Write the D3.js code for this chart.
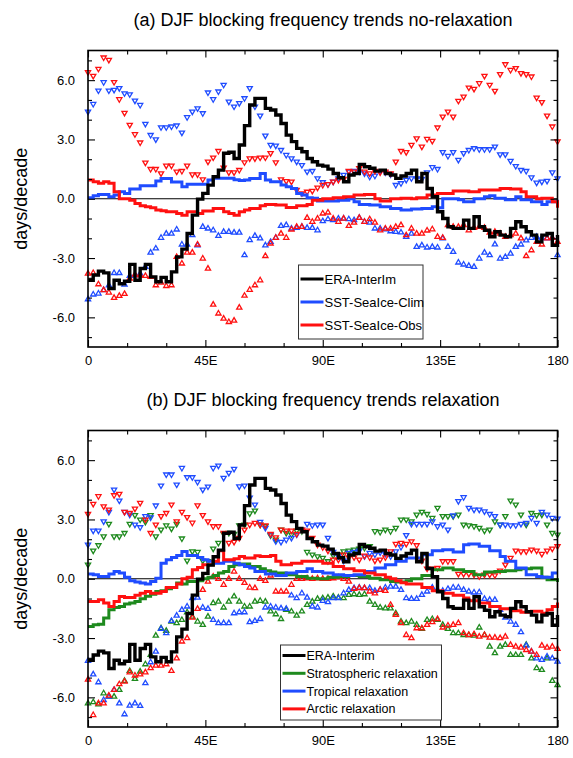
<!DOCTYPE html>
<html>
<head>
<meta charset="utf-8">
<script src="https://cdn.jsdelivr.net/npm/d3@7"></script>
<style>
  body { margin: 0; background: #fff; }
  svg { display: block; font-family: "Liberation Sans", Arial, Helvetica, sans-serif; }
</style>
</head>
<body>
<svg id="chart" width="573" height="758"></svg>
<script>
// Longitude grid (degrees east), 2-degree spacing
const lon = [0,2,4,6,8,10,12,14,16,18,20,22,24,26,28,30,32,34,36,38,40,42,44,46,48,50,52,54,56,58,
  60,62,64,66,68,70,72,74,76,78,80,82,84,86,88,90,92,94,96,98,100,102,104,106,108,110,112,114,116,118,
  120,122,124,126,128,130,132,134,136,138,140,142,144,146,148,150,152,154,156,158,160,162,164,166,168,170,172,174,176,178,180];

// ERA-Interim DJF blocking frequency trend (days/decade)
const eraInterim = [
  -4.12,-3.86,-3.66,-3.75,-4.54,-4.12,-4.30,-4.17,-3.32,-4.12,
  -3.53,-3.32,-3.95,-4.20,-3.98,-4.20,-3.70,-2.94,-2.55,-1.76,
  -0.83,-0.02,0.27,0.69,1.11,1.45,2.30,2.35,2.04,2.72,
  3.70,4.74,5.08,5.08,4.57,4.49,4.24,3.81,3.22,2.89,
  2.55,2.38,2.04,1.87,1.70,1.65,1.50,1.28,1.06,0.86,
  1.20,1.28,1.74,1.62,1.54,1.40,1.45,1.28,1.20,1.03,
  1.15,1.28,1.45,0.86,1.28,0.52,0.10,-0.66,-1.00,-1.42,
  -1.50,-1.50,-1.08,-1.50,-0.91,-1.42,-1.59,-1.92,-1.67,-1.84,
  -1.92,-1.50,-1.16,-1.42,-1.67,-1.84,-2.18,-1.84,-1.76,-2.35,
  -1.84];

// (a) SST-SeaIce-Clim: ensemble mean and upper/lower bounds
const climMean = [
  0.05,0.15,0.22,0.22,0.10,0.19,0.35,0.27,0.49,0.49,
  0.66,0.66,0.66,0.90,1.03,1.03,0.85,0.85,0.61,0.73,
  0.73,0.73,0.73,0.95,1.04,1.04,1.04,1.04,0.96,0.92,
  0.95,1.03,1.03,1.28,0.95,0.86,0.86,0.69,0.61,0.52,
  0.27,0.19,0.05,0.02,-0.12,-0.12,-0.12,-0.12,-0.07,-0.07,
  0.00,-0.15,-0.29,-0.29,-0.32,-0.32,-0.40,-0.40,-0.49,-0.49,
  -0.57,-0.57,-0.52,-0.52,-0.49,-0.49,-0.40,-0.46,0.00,0.00,
  0.00,-0.05,-0.15,-0.15,0.00,0.00,0.10,0.15,0.02,0.02,
  -0.05,-0.05,0.10,-0.05,-0.05,-0.15,-0.15,-0.29,-0.15,-0.15,
  -0.05];
const climHi = [
  4.40,4.79,5.47,5.89,5.47,5.50,5.59,5.33,5.28,4.96,
  4.74,3.78,3.22,3.00,3.61,3.61,3.65,3.70,3.34,4.12,
  4.40,4.57,4.32,5.37,5.03,5.42,5.76,4.91,4.66,4.83,
  5.08,5.59,4.66,4.20,3.19,2.72,2.68,2.46,2.21,2.04,
  1.87,1.70,1.37,1.40,1.03,0.83,0.73,0.86,1.03,1.20,
  1.37,1.40,1.37,1.28,1.11,1.16,1.37,1.33,1.23,0.69,
  0.78,0.95,1.03,1.03,1.00,1.33,1.59,1.50,2.35,2.16,
  2.35,1.96,2.30,2.46,2.55,2.50,2.50,2.50,2.63,2.24,
  2.24,1.91,1.65,1.45,1.40,1.08,0.81,0.86,0.90,1.33,
  1.03];
const climLo = [
  -5.08,-4.84,-4.79,-4.62,-4.37,-3.75,-3.75,-4.34,-3.90,-3.87,
  -3.78,-3.44,-2.72,-2.51,-1.97,-1.76,-1.76,-1.55,-2.31,-2.31,
  -1.84,-2.35,-1.42,-1.50,-1.59,-1.87,-1.67,-1.67,-1.71,-1.71,
  -2.85,-2.09,-1.87,-2.00,-2.35,-2.18,-1.97,-1.37,-1.33,-1.50,
  -1.47,-1.42,-1.47,-1.47,-1.59,-1.13,-1.03,-1.08,-1.00,-1.00,
  -1.03,-1.08,-0.96,-1.16,-1.20,-1.50,-1.50,-1.54,-1.64,-1.67,
  -1.70,-1.92,-1.76,-2.43,-2.35,-2.46,-2.43,-2.46,-2.00,-2.43,
  -2.68,-3.22,-3.32,-3.39,-3.44,-3.02,-2.72,-2.85,-2.30,-3.02,
  -2.94,-2.77,-2.43,-2.31,-2.10,-1.97,-1.92,-1.97,-2.00,-1.97,
  -2.85];

// (a) SST-SeaIce-Obs
const obsMean = [
  0.95,0.86,0.78,0.86,0.78,0.35,0.00,0.00,-0.07,-0.24,
  -0.35,-0.40,-0.46,-0.57,-0.61,-0.66,-0.66,-0.74,-0.83,-0.66,
  -0.66,-0.74,-0.62,-0.62,-0.49,-0.49,-0.66,-0.74,-0.83,-0.66,
  -0.57,-0.49,-0.49,-0.35,-0.29,-0.29,-0.32,-0.32,-0.44,-0.44,
  -0.35,-0.35,-0.29,-0.07,-0.07,0.00,0.00,0.05,0.05,0.10,
  0.10,0.19,0.19,0.22,0.22,0.00,-0.12,-0.12,0.00,0.00,
  0.02,0.02,0.00,0.05,0.05,0.19,0.19,0.27,0.27,0.27,
  0.39,0.39,0.39,0.35,0.35,0.44,0.44,0.44,0.44,0.52,
  0.52,0.49,0.49,0.35,0.10,0.10,0.00,0.02,0.02,-0.15,
  -0.46];
const obsHi = [
  6.40,6.21,6.57,7.14,7.02,5.90,5.03,4.34,3.73,3.26,
  2.84,1.82,1.50,1.50,1.28,1.67,1.67,1.37,1.40,1.67,
  1.23,1.23,0.98,1.87,2.08,2.41,1.57,1.33,1.33,1.45,
  1.84,2.04,2.04,2.08,2.08,2.30,1.84,0.98,0.89,0.86,
  0.44,0.27,0.35,0.39,0.56,0.69,0.73,0.86,0.95,1.00,
  1.40,1.37,1.54,1.37,1.28,1.40,1.33,1.37,1.28,1.87,
  2.41,2.35,2.72,3.05,2.63,3.02,2.92,3.60,4.15,4.40,
  4.15,4.95,5.16,5.62,5.55,5.84,6.21,5.76,5.45,6.30,
  6.80,6.51,6.60,6.35,6.30,6.18,5.11,4.88,4.20,3.65,
  2.89];
const obsLo = [
  -3.78,-3.75,-4.32,-4.62,-4.74,-5.01,-4.91,-4.81,-4.03,-3.83,
  -3.87,-3.90,-3.95,-4.37,-4.24,-4.41,-4.37,-2.94,-3.27,-2.72,
  -2.72,-2.31,-3.02,-3.53,-5.35,-5.80,-6.06,-6.23,-6.16,-5.50,
  -4.90,-4.60,-4.37,-4.12,-2.89,-2.26,-1.97,-1.76,-1.97,-1.55,
  -1.42,-1.42,-0.96,-1.16,-1.00,-0.74,-0.69,-1.00,-1.16,-1.00,
  -1.37,-1.20,-0.96,-1.16,-1.03,-1.20,-1.59,-1.50,-1.50,-1.42,
  -1.33,-1.84,-1.50,-1.76,-1.76,-1.60,-1.54,-1.92,-1.97,-1.33,
  -1.42,-1.42,-1.33,-1.59,-1.47,-1.42,-1.47,-1.71,-1.67,-1.76,
  -1.92,-1.84,-1.76,-2.00,-2.89,-2.60,-2.18,-2.31,-2.00,-1.97,
  -2.18];

// (b) Stratospheric relaxation
const stratMean = [
  -2.41,-2.33,-2.30,-1.99,-1.57,-1.45,-1.40,-1.28,-1.23,-1.15,
  -1.01,-0.89,-0.78,-0.64,-0.61,-0.51,-0.44,-0.22,-0.27,-0.14,
  -0.14,-0.10,0.00,0.07,0.17,0.29,0.37,0.62,0.71,0.74,
  0.74,0.62,0.62,0.51,0.41,0.34,0.29,0.29,0.20,0.20,
  0.12,0.12,0.03,0.03,0.00,0.00,0.07,0.07,0.12,0.12,
  0.17,0.17,0.12,0.12,0.03,0.03,-0.05,-0.05,-0.14,-0.17,
  -0.17,-0.10,0.00,0.00,0.17,0.17,0.46,0.46,0.54,0.54,
  0.46,0.46,0.37,0.37,0.20,0.20,0.34,0.34,0.37,0.37,
  0.41,0.41,0.46,0.51,0.51,0.54,0.54,0.07,-0.05,-0.05,
  -0.17];
const stratHi = [
  0.71,1.42,1.69,2.14,2.77,2.14,2.14,2.31,2.77,3.21,
  2.99,2.87,3.21,2.14,2.48,2.70,2.53,2.77,2.03,0.91,
  1.38,1.35,0.91,0.88,1.52,1.81,2.26,2.31,2.26,2.70,
  2.73,3.30,3.44,2.73,2.65,2.19,1.97,2.48,2.31,2.23,
  2.43,2.40,1.35,1.22,1.13,1.05,0.88,1.18,1.22,1.38,
  1.42,1.47,1.52,1.55,1.64,2.40,2.36,2.48,2.40,2.57,
  2.99,2.99,2.90,3.24,3.38,3.27,3.07,3.58,3.16,3.16,
  3.16,3.24,2.73,2.70,2.65,2.57,2.43,2.48,2.90,2.73,
  3.16,3.95,3.75,3.24,2.73,3.32,3.21,3.24,2.73,2.31,
  2.23];
const stratLo = [
  -6.30,-6.24,-6.35,-5.79,-5.96,-5.96,-5.62,-5.16,-4.66,-5.06,
  -4.69,-4.32,-3.85,-2.87,-2.50,-2.63,-2.16,-2.24,-2.08,-1.69,
  -1.91,-2.16,-2.33,-1.91,-1.23,-1.15,-1.45,-1.15,-0.89,-1.15,
  -1.40,-1.40,-1.15,-1.11,-1.15,-1.65,-1.79,-2.03,-1.57,-1.65,
  -1.86,-1.65,-1.32,-1.15,-1.01,-0.98,-0.95,-0.89,-0.95,-0.98,
  -0.81,-0.78,-0.81,-0.78,-1.15,-1.32,-1.45,-1.49,-1.49,-1.74,
  -2.16,-2.24,-2.16,-2.33,-2.53,-2.08,-2.03,-2.08,-2.33,-2.53,
  -2.75,-2.75,-2.84,-2.84,-2.87,-2.46,-2.84,-3.43,-3.76,-3.43,
  -3.34,-3.85,-3.85,-3.85,-3.34,-4.02,-4.52,-4.61,-4.02,-5.16,
  -5.37];

// (b) Tropical relaxation
const tropMean = [
  0.24,0.20,0.12,0.12,0.24,0.37,0.29,0.07,-0.10,-0.17,
  -0.22,-0.27,-0.14,0.03,0.79,0.96,1.08,1.18,1.38,1.18,
  1.18,1.08,0.96,0.88,0.79,0.79,0.88,0.88,0.79,0.71,
  0.62,0.54,0.37,0.37,0.24,0.24,0.17,0.17,0.29,0.29,
  0.37,0.37,0.51,0.37,0.37,0.29,0.29,0.20,0.20,0.17,
  0.17,0.20,0.20,0.37,0.37,0.54,0.54,0.71,0.71,0.88,
  0.88,1.05,1.05,1.05,1.22,1.22,1.42,1.42,1.47,1.47,
  1.35,1.35,1.72,1.76,1.76,1.64,1.64,1.42,1.42,1.13,
  0.88,0.88,0.54,0.54,0.20,0.20,0.12,0.07,0.07,0.29,
  0.29];
const tropHi = [
  1.72,2.43,2.43,2.90,3.38,4.50,3.95,3.38,3.24,2.73,
  2.60,3.16,3.10,3.70,4.71,5.27,5.27,4.76,5.60,5.13,
  5.13,4.89,4.50,4.66,5.60,5.72,5.10,5.35,5.55,4.67,
  4.71,4.10,3.75,2.87,2.57,2.23,1.89,1.86,1.97,2.06,
  2.23,2.48,2.77,2.70,2.73,2.73,2.06,1.35,1.13,0.91,
  1.30,1.35,1.42,1.13,1.30,1.22,1.33,1.25,1.13,1.38,
  1.60,2.20,2.77,2.77,2.77,2.77,2.90,2.65,2.73,2.48,
  3.20,3.92,4.12,3.58,3.49,3.49,3.40,3.27,3.16,2.73,
  2.73,2.70,2.70,2.77,2.82,3.07,2.82,3.38,3.24,3.07,
  3.04];
const tropLo = [
  -4.15,-4.83,-5.23,-6.13,-5.96,-5.62,-6.30,-6.85,-6.41,-6.30,
  -6.43,-5.28,-4.22,-3.68,-2.53,-2.75,-2.13,-1.86,-1.57,-1.40,
  -0.98,-0.95,-1.45,-1.52,-2.08,-2.24,-2.24,-2.24,-1.74,-1.69,
  -1.69,-2.19,-2.13,-2.03,-1.45,-1.40,-1.45,-1.49,-1.52,-0.84,
  -0.98,-0.73,-0.95,-1.40,-1.45,-1.11,-1.18,-0.98,-0.98,-0.73,
  -0.56,-0.47,-0.44,-0.47,-0.47,-0.61,-0.56,-0.44,-0.39,-0.39,
  -0.56,-0.98,-1.01,-1.01,-0.81,-0.64,-0.44,-0.56,-0.61,-0.51,
  -0.44,-0.44,-0.56,-0.64,-0.69,-0.68,-1.01,-1.06,-1.06,-1.57,
  -1.96,-2.16,-2.33,-2.70,-3.38,-3.68,-4.02,-4.10,-3.93,-4.02,
  -4.19];

// (b) Arctic relaxation
const arcMean = [
  -1.15,-1.15,-1.06,-1.23,-1.40,-1.15,-0.90,-0.95,-0.95,-0.84,
  -0.73,-0.64,-0.73,-0.73,-0.64,-0.44,-0.44,-0.27,0.00,0.07,
  0.46,0.57,0.71,0.71,0.88,1.42,0.96,0.96,1.01,1.13,
  1.05,1.05,1.16,1.13,1.13,1.18,0.88,0.71,0.71,0.79,
  0.79,0.88,0.88,0.88,0.88,0.79,0.79,0.62,0.62,0.51,
  0.51,0.41,0.41,0.29,0.29,0.20,0.20,0.07,0.00,-0.10,
  -0.20,-0.27,-0.27,-0.27,-0.44,-0.44,-0.61,-0.61,-0.73,-0.73,
  -0.84,-0.84,-0.98,-1.11,-1.11,-1.23,-1.23,-1.40,-1.40,-1.52,
  -1.52,-1.62,-1.62,-1.69,-1.69,-1.65,-1.65,-1.74,-1.57,-1.40,
  -1.20];
const arcHi = [
  3.27,3.78,4.17,3.66,3.49,4.22,4.29,3.38,3.33,3.54,
  3.83,2.99,2.31,2.73,3.16,3.32,3.75,2.90,3.38,3.11,
  2.83,3.71,3.21,2.90,2.65,2.65,2.31,1.81,1.86,2.06,
  2.48,2.73,2.82,2.73,2.70,2.26,2.09,2.48,2.43,2.43,
  2.26,2.48,2.43,2.06,1.72,1.59,1.42,0.96,0.96,1.22,
  1.08,1.08,0.96,1.16,1.08,0.91,0.96,1.08,1.38,1.76,
  1.81,1.76,1.89,1.69,0.91,0.51,0.51,0.54,0.88,0.88,
  0.88,0.24,0.24,0.24,0.20,0.12,0.20,0.20,0.17,0.41,
  0.71,1.05,1.42,1.38,1.38,1.47,1.42,1.25,1.42,1.52,
  1.64];
const arcLo = [
  -5.10,-6.89,-6.30,-6.30,-5.91,-5.62,-5.33,-5.20,-4.73,-4.89,
  -4.83,-4.73,-4.52,-4.39,-4.39,-4.32,-4.66,-4.02,-3.17,-3.00,
  -1.96,-1.52,-0.56,-0.14,0.12,0.00,-0.30,0.00,0.37,0.00,
  -0.20,-0.44,-0.47,0.00,-0.10,0.17,-0.64,-0.64,-0.64,-0.30,
  0.00,0.00,0.03,0.00,0.03,0.00,0.00,0.03,0.07,0.00,
  -0.14,-0.51,-0.47,-0.47,-0.64,-0.73,-0.56,-0.61,-1.32,-1.82,
  -2.24,-2.84,-3.00,-2.50,-2.50,-2.33,-2.19,-2.03,-2.46,-2.36,
  -2.33,-2.24,-2.75,-2.84,-2.80,-2.92,-2.84,-2.97,-2.97,-3.00,
  -2.92,-3.34,-3.43,-3.48,-3.60,-3.68,-3.85,-3.38,-3.48,-3.43,
  -3.54];

// Axis ticks and labels
const xTickValues = [0, 45, 90, 135, 180];
const xTickLabels = ["0", "45E", "90E", "135E", "180"];
const xMinorTicks = [15, 30, 60, 75, 105, 120, 150, 165];
const yTickValues = [-6, -3, 0, 3, 6];
const yMinorTicks = [-7, -5, -4, -2, -1, 1, 2, 4, 5, 7];
const yDomain = [-7.5, 7.5];

const BLUE = "#1f4cff", RED = "#ff1010", GREEN = "#1e8a1e", BLACK = "#000";

const svg = d3.select("#chart");
const x = d3.scaleLinear().domain([0, 180]).range([88, 557.5]);

function styleAxis(g, fontSize) {
  g.select(".domain").remove();
  g.selectAll(".tick line").attr("stroke", "#000").attr("stroke-width", 1.1);
  g.selectAll("text").attr("fill", "#000").style("font-size", fontSize + "px")
    .style("font-family", '"Liberation Sans", Arial, sans-serif');
}

function triPath(dir) {
  // small open triangle: dir = "up" or "down"
  return dir === "up" ? "M0,-2.9L2.6,1.6L-2.6,1.6Z" : "M0,2.9L2.6,-1.6L-2.6,-1.6Z";
}

function drawPanel(cfg) {
  const g = svg.append("g");
  const y = d3.scaleLinear().domain(yDomain).range([cfg.bottom, cfg.top]);
  const [x0, x1] = x.range();

  // title and y-axis label
  g.append("text").attr("x", 323).attr("y", cfg.titleY).attr("text-anchor", "middle")
    .style("font-size", "18px").text(cfg.title);
  g.append("text").attr("transform", `translate(27,${y(0)}) rotate(-90)`)
    .attr("text-anchor", "middle").style("font-size", "18px").text("days/decade");

  // zero reference line
  g.append("line").attr("x1", x0).attr("x2", x1).attr("y1", y(0)).attr("y2", y(0))
    .attr("stroke", "#000").attr("stroke-width", 1);

  // spread markers: upper bound as down-triangles, lower bound as up-triangles
  cfg.series.forEach(s => {
    [[s.hi, "down"], [s.lo, "up"]].forEach(([vals, dir]) => {
      g.append("g").selectAll("path").data(vals).join("path")
        .attr("d", triPath(dir))
        .attr("transform", (d, i) => `translate(${x(lon[i])},${y(d)})`)
        .attr("fill", "none").attr("stroke", s.color).attr("stroke-width", 1.3);
    });
  });

  const line = d3.line().x((d, i) => x(lon[i])).y(d => y(d)).curve(d3.curveStepAfter);
  cfg.series.forEach(s => {
    g.append("path").datum(s.mean).attr("d", line).attr("fill", "none")
      .attr("stroke", s.color).attr("stroke-width", 3).attr("stroke-linejoin", "miter");
  });
  g.append("path").datum(eraInterim).attr("d", line).attr("fill", "none")
    .attr("stroke", BLACK).attr("stroke-width", 3.4).attr("stroke-linejoin", "miter");

  // axes with inward ticks on all four sides
  const bottom = g.append("g").attr("transform", `translate(0,${cfg.bottom})`)
    .call(d3.axisBottom(x).tickValues(xTickValues).tickFormat((d, i) => xTickLabels[i])
      .tickSize(-7).tickSizeOuter(0).tickPadding(9));
  styleAxis(bottom, 13);
  const bottomMinor = g.append("g").attr("transform", `translate(0,${cfg.bottom})`)
    .call(d3.axisBottom(x).tickValues(xMinorTicks).tickFormat("").tickSize(-4).tickSizeOuter(0));
  styleAxis(bottomMinor, 13);
  const top = g.append("g").attr("transform", `translate(0,${cfg.top})`)
    .call(d3.axisTop(x).tickValues(xTickValues).tickFormat("").tickSize(-7).tickSizeOuter(0));
  styleAxis(top, 13);
  const topMinor = g.append("g").attr("transform", `translate(0,${cfg.top})`)
    .call(d3.axisTop(x).tickValues(xMinorTicks).tickFormat("").tickSize(-4).tickSizeOuter(0));
  styleAxis(topMinor, 13);

  const left = g.append("g").attr("transform", `translate(${x0},0)`)
    .call(d3.axisLeft(y).tickValues(yTickValues).tickFormat(d => d.toFixed(1))
      .tickSize(-7).tickSizeOuter(0).tickPadding(13));
  styleAxis(left, 13);
  const leftMinor = g.append("g").attr("transform", `translate(${x0},0)`)
    .call(d3.axisLeft(y).tickValues(yMinorTicks).tickFormat("").tickSize(-4).tickSizeOuter(0));
  styleAxis(leftMinor, 13);
  const right = g.append("g").attr("transform", `translate(${x1},0)`)
    .call(d3.axisRight(y).tickValues(yTickValues).tickFormat("").tickSize(-7).tickSizeOuter(0));
  styleAxis(right, 13);
  const rightMinor = g.append("g").attr("transform", `translate(${x1},0)`)
    .call(d3.axisRight(y).tickValues(yMinorTicks).tickFormat("").tickSize(-4).tickSizeOuter(0));
  styleAxis(rightMinor, 13);

  // plot frame
  g.append("rect").attr("x", x0).attr("y", cfg.top).attr("width", x1 - x0)
    .attr("height", cfg.bottom - cfg.top).attr("fill", "none")
    .attr("stroke", "#000").attr("stroke-width", 1.6);

  // legend
  const L = cfg.legend;
  const lg = g.append("g");
  lg.append("rect").attr("x", L.x).attr("y", L.y).attr("width", L.w).attr("height", L.h)
    .attr("fill", "#fff").attr("stroke", "#333").attr("stroke-width", 1);
  L.items.forEach((it, i) => {
    const yy = L.y + L.first + i * L.step;
    lg.append("line").attr("x1", L.x + 2).attr("x2", L.x + 2 + L.len).attr("y1", yy).attr("y2", yy)
      .attr("stroke", it.color).attr("stroke-width", 3);
    lg.append("text").attr("x", L.x + 3 + L.len).attr("y", yy).attr("dy", "0.36em")
      .style("font-size", L.font + "px").text(it.label);
  });
}

drawPanel({
  top: 50.5, bottom: 347, titleY: 26,
  title: "(a) DJF blocking frequency trends no-relaxation",
  series: [
    { color: BLUE, mean: climMean, hi: climHi, lo: climLo },
    { color: RED, mean: obsMean, hi: obsHi, lo: obsLo }
  ],
  legend: {
    x: 298.5, y: 265, w: 124.5, h: 74, first: 14, step: 23, len: 23, font: 13,
    items: [
      { label: "ERA-InterIm", color: BLACK },
      { label: "SST-SeaIce-Clim", color: BLUE },
      { label: "SST-SeaIce-Obs", color: RED }
    ]
  }
});

drawPanel({
  top: 430.5, bottom: 727, titleY: 406,
  title: "(b) DJF blocking frequency trends relaxation",
  series: [
    { color: GREEN, mean: stratMean, hi: stratHi, lo: stratLo },
    { color: BLUE, mean: tropMean, hi: tropHi, lo: tropLo },
    { color: RED, mean: arcMean, hi: arcHi, lo: arcLo }
  ],
  legend: {
    x: 280.5, y: 645, w: 161, h: 75, first: 10.5, step: 17.8, len: 23, font: 12.5,
    items: [
      { label: "ERA-Interim", color: BLACK },
      { label: "Stratospheric relaxation", color: GREEN },
      { label: "Tropical relaxation", color: BLUE },
      { label: "Arctic relaxation", color: RED }
    ]
  }
});
</script>
</body>
</html>
